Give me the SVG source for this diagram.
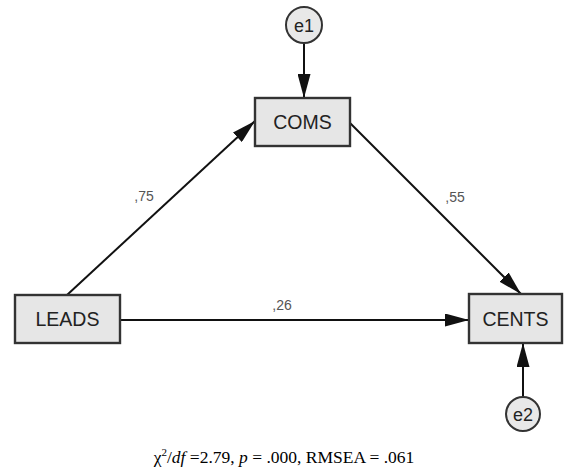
<svg xmlns="http://www.w3.org/2000/svg" width="568" height="472" viewBox="0 0 568 472">
<defs>
<marker id="ahb" viewBox="0 0 24 13" refX="24" refY="6.5" markerWidth="24" markerHeight="13" markerUnits="userSpaceOnUse" orient="auto">
<path d="M0,0 L24,6.5 L0,13 z" fill="#111"/>
</marker>
</defs>
<style>
.box{fill:#e6e6e6;stroke:#333;stroke-width:2.4}
.err{fill:#e8e8e8;stroke:#333;stroke-width:2}
.lbl{font-family:"Liberation Sans",Arial,sans-serif;font-size:19.5px;fill:#222;text-anchor:middle}
.elbl{font-family:"Liberation Sans",Arial,sans-serif;font-size:18px;fill:#222;text-anchor:middle}
.coef{font-family:"Liberation Sans",Arial,sans-serif;font-size:14px;fill:#555;text-anchor:middle}
.edge{stroke:#111;stroke-width:2;fill:none;marker-end:url(#ahb)}
.cap{font-family:"Liberation Serif","Times New Roman",serif;font-size:17.5px;fill:#000;text-anchor:middle}
</style>
<rect width="568" height="472" fill="#fff"/>
<g id="connectors">
<line class="edge" x1="304" y1="43" x2="304" y2="98"/>
<line class="edge" x1="67" y1="295" x2="255" y2="121"/>
<line class="edge" x1="350" y1="123" x2="521" y2="294"/>
<line class="edge" x1="120" y1="320" x2="469" y2="320"/>
<line class="edge" x1="523" y1="397" x2="523" y2="343"/>
<text class="coef" x="144" y="201">,75</text>
<text class="coef" x="455" y="202">,55</text>
<text class="coef" x="282" y="310">,26</text>
</g>
<g id="e1">
<circle class="err" cx="304" cy="25" r="18"/>
<text class="elbl" x="304" y="31.5">e1</text>
</g>
<g id="COMS">
<rect class="box" x="255" y="98" width="95" height="48"/>
<text class="lbl" x="302.5" y="129">COMS</text>
</g>
<g id="LEADS">
<rect class="box" x="15" y="295" width="105" height="48"/>
<text class="lbl" x="67.5" y="326">LEADS</text>
</g>
<g id="CENTS">
<rect class="box" x="469" y="294" width="93" height="49"/>
<text class="lbl" x="515.5" y="325.5">CENTS</text>
</g>
<g id="e2">
<circle class="err" cx="523" cy="414" r="17"/>
<text class="elbl" x="523" y="420.5">e2</text>
</g>
<text class="cap" x="284" y="463">χ<tspan font-size="11" dy="-7">2</tspan><tspan dy="7">/</tspan><tspan font-style="italic">df</tspan> =2.79, <tspan font-style="italic">p</tspan> = .000, RMSEA = .061</text>
</svg>
